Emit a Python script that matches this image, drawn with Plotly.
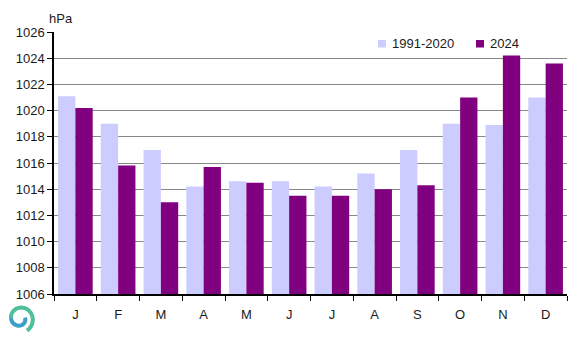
import math
import plotly.graph_objects as go

months = ["J", "F", "M", "A", "M", "J", "J", "A", "S", "O", "N", "D"]
clim_1991_2020 = [1021.1, 1019.0, 1017.0, 1014.2, 1014.6, 1014.6, 1014.2, 1015.2, 1017.0, 1019.0, 1018.9, 1021.0]
year_2024 = [1020.2, 1015.8, 1013.0, 1015.7, 1014.5, 1013.5, 1013.5, 1014.0, 1014.3, 1021.0, 1024.2, 1023.6]
y_ticks = list(range(1006, 1027, 2))
series_names = ["1991-2020", "2024"]
colors = ["#CCCCFF", "#800080"]

W, H = 587, 338
ML, MR, MT, MB = 54, 20, 32, 44
PW, PH = W - ML - MR, H - MT - MB


def px(xp):
    return (xp - ML) / PW


def py(yp):
    return (H - MB - yp) / PH


x = list(range(12))
fig = go.Figure()
for name, vals, col in zip(series_names, [clim_1991_2020, year_2024], colors):
    fig.add_bar(x=x, y=[v - 1006 for v in vals], base=1006, name=name,
                marker=dict(color=col, line=dict(width=0)), showlegend=False)

txt = dict(family="Liberation Sans, Arial, sans-serif", size=13, color="#1a1a1a")

annotations = [dict(text="hPa", x=px(61), y=py(19), xref="paper", yref="paper",
                    xanchor="center", yanchor="middle", showarrow=False, font=txt)]
shapes = []
# manual legend
legend_items = [(378, 390), (476, 488)]
for (sx, tx), name, col in zip(legend_items, series_names, colors):
    shapes.append(dict(type="rect", xref="paper", yref="paper",
                       x0=px(sx), x1=px(sx + 8), y0=py(47.5), y1=py(40), line=dict(width=0),
                       fillcolor=col))
    annotations.append(dict(text=name, x=px(tx), y=py(44), xref="paper", yref="paper",
                            xanchor="left", yanchor="middle", showarrow=False, font=txt))

# decorative logo spiral (bottom-left)
cx, cy = 20, 318.5
pts_outer, pts_inner = [], []
n = 60
for i in range(n + 1):
    t = i / n
    ang = math.radians(-60 + 430 * t)
    r = 14 - 9 * t
    p = (cx + r * math.cos(ang), cy - r * math.sin(ang))
    (pts_outer if t <= 0.55 else pts_inner).append(p)
pts_inner.insert(0, pts_outer[-1])
for pts, col in [(pts_outer, "#4fbf9c"), (pts_inner, "#3a9fc9")]:
    path = "M " + " L ".join(f"{px(a):.5f},{py(b):.5f}" for a, b in pts)
    shapes.append(dict(type="path", xref="paper", yref="paper", path=path,
                       line=dict(color=col, width=4)))

fig.update_layout(
    width=W, height=H,
    margin=dict(l=ML, r=MR, t=MT, b=MB),
    paper_bgcolor="white", plot_bgcolor="white",
    barmode="group", bargap=0.19, bargroupgap=0,
    font=txt,
    showlegend=False,
    xaxis=dict(tickmode="array", tickvals=x, ticktext=months, range=[-0.5, 11.5],
               showline=True, linecolor="black", linewidth=1.5, showgrid=False,
               ticks="", zeroline=False, ticklabelstandoff=8),
    yaxis=dict(range=[1006, 1026], tickmode="array", tickvals=y_ticks,
               ticktext=[str(t) for t in y_ticks],
               showline=True, linecolor="black", linewidth=1.5,
               showgrid=True, gridcolor="#888888", gridwidth=1,
               ticks="outside", ticklen=5, tickcolor="black", zeroline=False),
    annotations=annotations,
    shapes=shapes,
)

fig.update_xaxes(minor=dict(tickmode="array", tickvals=[i - 0.5 for i in range(13)],
                            ticks="outside", ticklen=5, tickcolor="black", showgrid=False))

fig.write_html("out.html")
